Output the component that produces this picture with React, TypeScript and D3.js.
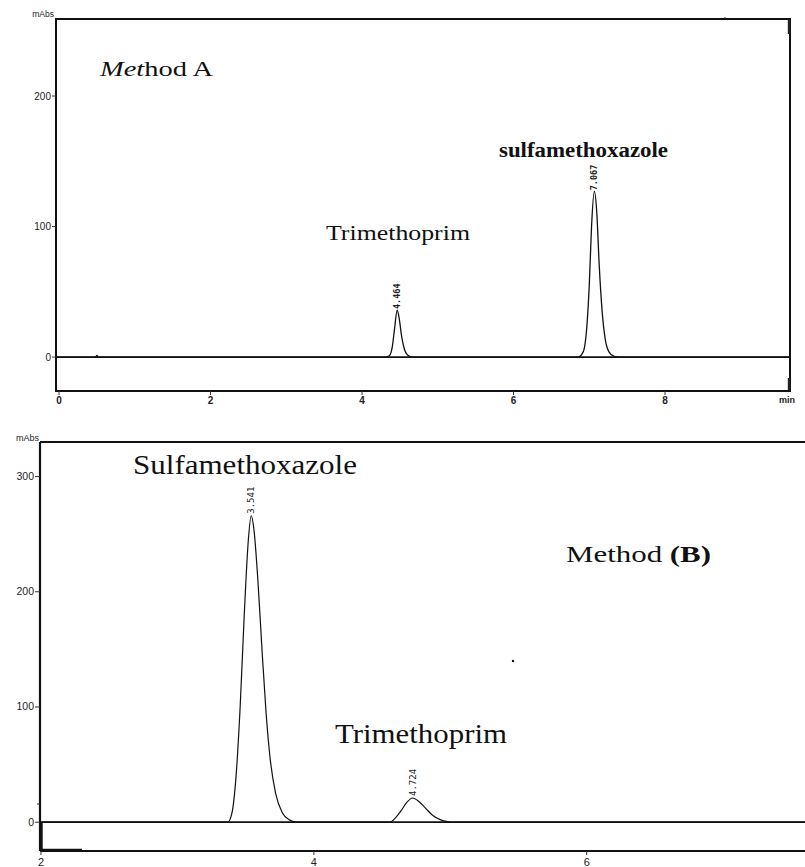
import React from "react";
import * as d3 from "d3";

// ---------- DATA ----------
// Panel A (Method A) trace: [time (min), absorbance (mAbs)]
const traceATimes = [
  -0.04, 0.48, 0.5, 0.52, 4.3, 4.36, 4.4, 4.43, 4.464, 4.49, 4.52, 4.56, 4.6, 4.66,
  6.85, 6.92, 6.97, 7.0, 7.03, 7.067, 7.1, 7.13, 7.17, 7.21, 7.26, 7.33, 7.4, 9.65,
];
const traceAValues = [
  0, 0, 1.2, 0, 0, 1, 8, 22, 36, 30, 17, 6, 1.5, 0,
  0, 4, 25, 55, 100, 127, 110, 72, 35, 14, 4, 0.5, 0, 0,
];
// Panel B (Method B) trace
const traceBTimes = [
  1.993, 3.37, 3.4, 3.43, 3.46, 3.49, 3.52, 3.541, 3.56, 3.59, 3.62, 3.65, 3.68, 3.72,
  3.77, 3.82, 3.88, 4.56, 4.6, 4.64, 4.68, 4.724, 4.77, 4.82, 4.87, 4.93, 4.98, 5.02, 7.6,
];
const traceBValues = [
  0, 0, 8, 40, 100, 180, 245, 266, 255, 210, 150, 95, 55, 25,
  8, 2, 0, 0, 4, 10, 17, 21, 18, 12, 6, 2, 0.5, 0, 0,
];

// Peak labels (retention times)
const peakLabelsA = ["4.464", "7.067"];
const peakTimesA = [4.464, 7.067];
const peakHeightsA = [36, 127];
const peakLabelsB = ["3.541", "4.724"];
const peakTimesB = [3.541, 4.724];
const peakHeightsB = [266, 21];

// Axis ticks
const xTicksA = [0, 2, 4, 6, 8];
const yTicksA = [0, 100, 200];
const xTicksB = [2, 4, 6];
const yTicksB = [0, 100, 200, 300];

// Axis extents
const xDomainA = [-0.04, 9.65];
const yDomainA = [-26, 259];
const xDomainB = [1.993, 7.6];
const yDomainB = [-25, 330];

// ---------- COMPONENT ----------
export default function App() {
  const W = 805;
  const H = 867;

  const xA = d3.scaleLinear().domain(xDomainA).range([56, 790]);
  const yA = d3.scaleLinear().domain(yDomainA).range([391, 19]);
  const xB = d3.scaleLinear().domain(xDomainB).range([40, 805]);
  const yB = d3.scaleLinear().domain(yDomainB).range([851, 442]);

  const ptsA: [number, number][] = traceATimes.map((t, i) => [t, traceAValues[i]]);
  const ptsB: [number, number][] = traceBTimes.map((t, i) => [t, traceBValues[i]]);

  const lineA = d3
    .line<[number, number]>()
    .x((d) => xA(d[0]))
    .y((d) => yA(d[1]))
    .curve(d3.curveMonotoneX);
  const lineB = d3
    .line<[number, number]>()
    .x((d) => xB(d[0]))
    .y((d) => yB(d[1]))
    .curve(d3.curveMonotoneX);

  const tickFont = "Liberation Sans, Arial, sans-serif";
  const serif = "Liberation Serif, Times New Roman, serif";
  const mono = "DejaVu Sans Mono, monospace";
  const ink = "#111";
  const tickInk = "#222";

  return (
    <svg
      width={W}
      height={H}
      style={{ position: "absolute", left: 0, top: 0, background: "#fff" }}
    >
      <rect x={0} y={0} width={W} height={H} fill="#fff" />

      {/* ===== Panel A ===== */}
      <g>
        <rect
          x={xA(xDomainA[0])}
          y={yA(yDomainA[1])}
          width={xA(xDomainA[1]) - xA(xDomainA[0])}
          height={yA(yDomainA[0]) - yA(yDomainA[1])}
          fill="none"
          stroke={ink}
          strokeWidth={2}
        />
        {/* zero line */}
        <line x1={xA(xDomainA[0])} x2={xA(xDomainA[1])} y1={yA(0)} y2={yA(0)} stroke={ink} strokeWidth={1.8} />
        {/* small marks on right frame */}
        <line x1={789} x2={789} y1={20} y2={34} stroke="#222" strokeWidth={2.4} />
        <line x1={789} x2={789} y1={378} y2={390} stroke="#222" strokeWidth={2.4} />
        <line x1={725} x2={725} y1={17} y2={19} stroke="#222" strokeWidth={1} />
        <path d={lineA(ptsA) || ""} fill="none" stroke={ink} strokeWidth={1.3} />
        {/* y ticks */}
        {yTicksA.map((v) => (
          <g key={"ya" + v}>
            <line x1={52} x2={56} y1={yA(v)} y2={yA(v)} stroke="#333" strokeWidth={1} />
            <text x={51} y={yA(v) + 3.5} textAnchor="end" fontFamily={tickFont} fontSize={10} fill={tickInk}>
              {v}
            </text>
          </g>
        ))}
        {/* x ticks */}
        {xTicksA.map((v) => (
          <g key={"xa" + v}>
            <line x1={xA(v)} x2={xA(v)} y1={391} y2={395} stroke="#333" strokeWidth={1} />
            <text x={xA(v)} y={404} textAnchor="middle" fontFamily={tickFont} fontSize={10} fontWeight="bold" fill={tickInk}>
              {v}
            </text>
          </g>
        ))}
        <text x={779} y={403} fontFamily={tickFont} fontSize={9} fontWeight="bold" fill={tickInk}>
          min
        </text>
        <text x={54} y={17} textAnchor="end" fontFamily={tickFont} fontSize={8.5} fill={tickInk}>
          mAbs
        </text>
        {/* peak labels */}
        {peakLabelsA.map((lab, i) => (
          <text
            key={lab}
            transform={`translate(${xA(peakTimesA[i]) + 3},${yA(peakHeightsA[i]) - 1}) rotate(-90)`}
            fontFamily={mono}
            fontSize={8.5}
            fontWeight="bold"
            fill="#222"
          >
            {lab}
          </text>
        ))}
        {/* annotations */}
        <text x={100} y={76} fontFamily={serif} fontSize={22} fill={ink} textLength={113} lengthAdjust="spacingAndGlyphs">
          <tspan fontStyle="italic">Met</tspan>
          <tspan>hod A</tspan>
        </text>
        <text x={499} y={157} fontFamily={serif} fontSize={20} fontWeight="bold" fill={ink} textLength={169} lengthAdjust="spacingAndGlyphs">
          sulfamethoxazole
        </text>
        <text x={326} y={240} fontFamily={serif} fontSize={21} fill={ink} textLength={144} lengthAdjust="spacingAndGlyphs">
          Trimethoprim
        </text>
      </g>

      {/* ===== Panel B ===== */}
      <g>
        <line x1={40} x2={805} y1={442} y2={442} stroke={ink} strokeWidth={1.8} />
        <line x1={40} x2={40} y1={442} y2={851} stroke={ink} strokeWidth={2.2} />
        <line x1={40} x2={805} y1={851} y2={851} stroke={ink} strokeWidth={1.8} />
        <line x1={40} x2={805} y1={yB(0)} y2={yB(0)} stroke={ink} strokeWidth={1.8} />
        <line x1={41} x2={82} y1={850} y2={850} stroke={ink} strokeWidth={2.6} />
        <line x1={41.5} x2={41.5} y1={yB(0)} y2={850} stroke={ink} strokeWidth={2.4} />
        <line x1={37} x2={40} y1={804} y2={804} stroke="#333" strokeWidth={1} />
        <path d={lineB(ptsB) || ""} fill="none" stroke={ink} strokeWidth={1.2} />
        {yTicksB.map((v) => (
          <g key={"yb" + v}>
            <line x1={35} x2={40} y1={yB(v)} y2={yB(v)} stroke="#333" strokeWidth={1} />
            <text x={34} y={yB(v) + 3.5} textAnchor="end" fontFamily={tickFont} fontSize={10.5} fill={tickInk}>
              {v}
            </text>
          </g>
        ))}
        {xTicksB.map((v) => (
          <g key={"xb" + v}>
            <line x1={xB(v)} x2={xB(v)} y1={851} y2={855} stroke="#333" strokeWidth={1} />
            <text x={xB(v)} y={866} textAnchor="middle" fontFamily={tickFont} fontSize={11} fill={tickInk}>
              {v}
            </text>
          </g>
        ))}
        <text x={39} y={441} textAnchor="end" fontFamily={tickFont} fontSize={9} fill={tickInk}>
          mAbs
        </text>
        {peakLabelsB.map((lab, i) => (
          <text
            key={lab}
            transform={`translate(${xB(peakTimesB[i]) + 3},${yB(peakHeightsB[i]) - 2}) rotate(-90)`}
            fontFamily={mono}
            fontSize={9}
            fill="#222"
          >
            {lab}
          </text>
        ))}
        <text x={133} y={474} fontFamily={serif} fontSize={27} fill={ink} textLength={224} lengthAdjust="spacingAndGlyphs">
          Sulfamethoxazole
        </text>
        <text x={566} y={562} fontFamily={serif} fontSize={24} fill={ink} textLength={145} lengthAdjust="spacingAndGlyphs">
          Method <tspan fontWeight="bold">(B)</tspan>
        </text>
        <text x={335} y={743} fontFamily={serif} fontSize={27} fill={ink} textLength={172} lengthAdjust="spacingAndGlyphs">
          Trimethoprim
        </text>
        <circle cx={513} cy={661} r={1.2} fill={ink} />
      </g>
    </svg>
  );
}
